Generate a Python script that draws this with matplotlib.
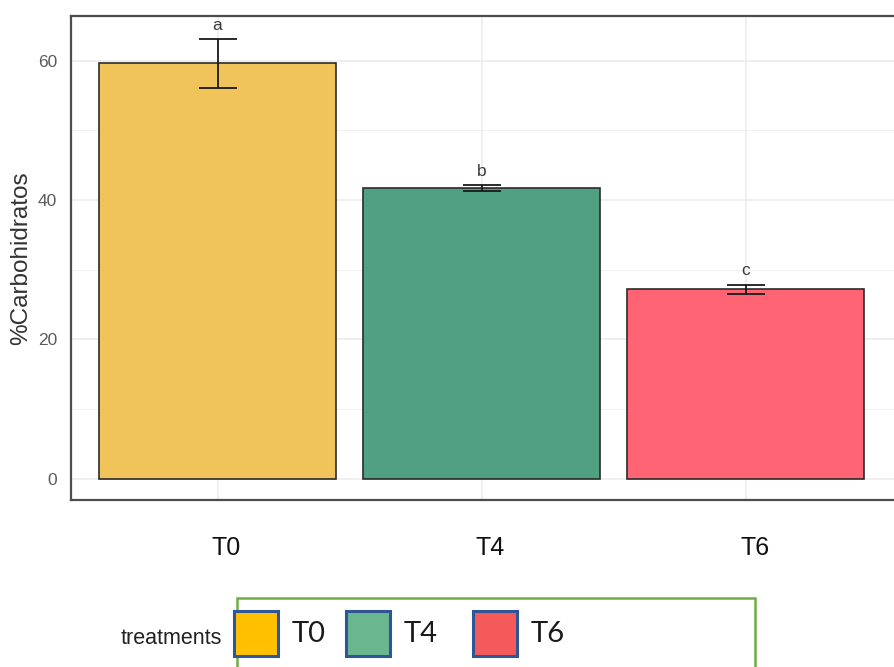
import numpy as np
import matplotlib
matplotlib.use('Agg')
import matplotlib.pyplot as plt
from matplotlib.patches import Rectangle
from matplotlib.transforms import ScaledTranslation

plt.rcParams['font.family'] = ['Liberation Sans', 'DejaVu Sans']

treatments = ['T0', 'T4', 'T6']
carbs = [59.6, 41.7, 27.2]
carbs_se = [3.5, 0.45, 0.65]
letters = ['a', 'b', 'c']
bar_colors = ['#F1C35B', '#50A184', '#FE6473']
legend_colors = ['#FFC000', '#6AB68F', '#F55A5A']

W, H = 894, 667
fig = plt.figure(figsize=(W / 100, H / 100), dpi=100)


def fx(px):
    return px / W


def fy(py):
    return 1 - py / H


# panel: left edge at 71 px, runs off the right side
ax = fig.add_axes([fx(71), fy(500), fx(904) - fx(71), fy(16) - fy(500)])
x = np.arange(1, len(treatments) + 1)

ax.set_axisbelow(True)
ax.set_xlim(0.445, 3.6)
ax.set_ylim(-3.05, 66.4)
ax.set_yticks([0, 20, 40, 60])
ax.set_yticks([10, 30, 50], minor=True)
ax.grid(which='major', color='#EBEBEB', lw=1.1)
ax.grid(which='minor', axis='y', color='#F2F2F2', lw=0.8)

ax.bar(x, carbs, width=0.9, color=bar_colors, edgecolor='#2B2B2B', linewidth=1.2, zorder=2)
ax.errorbar(x, carbs, yerr=carbs_se, fmt='none', ecolor='#1A1A1A', elinewidth=1.3,
            capsize=13.7, capthick=1.3, zorder=3)
for xi, m, s, lab in zip(x, carbs, carbs_se, letters):
    ax.text(xi, m + s + 0.9, lab, ha='center', va='bottom', fontsize=12.5, color='#3A3A3A')

ax.set_xticks(x)
ax.set_xticklabels(treatments, fontsize=18, color='#111111')
ax.tick_params(axis='x', length=0, pad=26)
# category labels sit a little right of the bar centres
for lab in ax.get_xticklabels():
    lab.set_transform(lab.get_transform() + ScaledTranslation(0.09, 0, fig.dpi_scale_trans))
ax.tick_params(axis='y', which='both', length=0, pad=10, labelsize=12.5, labelcolor='#5A5A5A')
ax.set_ylabel('%Carbohidratos', fontsize=17.5, color='#333333', labelpad=4)

for side in ['top', 'bottom', 'left', 'right']:
    ax.spines[side].set_color('#4D4D4D')
    ax.spines[side].set_linewidth(1.6)

# legend strip
fig.patches.append(Rectangle((fx(237), fy(700)), fx(755) - fx(237), fy(598) - fy(700),
                             transform=fig.transFigure, facecolor='none',
                             edgecolor='#70AD47', linewidth=1.8))
fig.text(fx(222), fy(638), 'treatments', ha='right', va='center', fontsize=15.5,
         color='#222222')
key_left = [234, 346, 473]
for kl, name, col in zip(key_left, treatments, legend_colors):
    fig.patches.append(Rectangle((fx(kl), fy(656)), fx(kl + 44) - fx(kl), fy(611) - fy(656),
                                 transform=fig.transFigure, facecolor=col,
                                 edgecolor='#2F5597', linewidth=2.2))
    fig.text(fx(kl + 58), fy(634), name, ha='left', va='center', fontsize=21,
             color='#1A1A1A', family=['Lato', 'DejaVu Sans'])

fig.savefig('out.png', dpi=100)
